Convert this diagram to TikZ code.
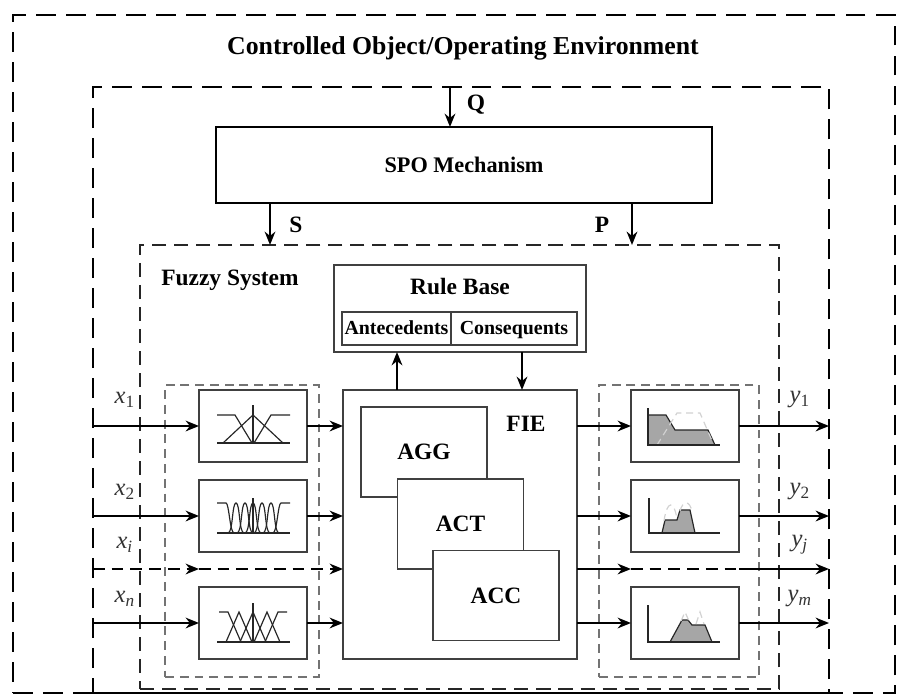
\documentclass[tikz,border=0pt]{standalone}
\usepackage{fontspec}
\setmainfont{Liberation Serif}
\usetikzlibrary{arrows.meta,calc,positioning}
\tikzset{
  envbox/.style={
    draw=black,
    line width=1.1pt,
    dash pattern=on 8.5pt off 4.3pt,
    inner sep=0pt,
    outer sep=0pt
  },
  fsbox/.style={
    draw=black!85,
    line width=.7pt,
    dash pattern=on 6pt off 3.4pt,
    inner sep=0pt,
    outer sep=0pt
  },
  unitbox/.style={
    draw=black!55,
    line width=.6pt,
    dash pattern=on 3.8pt off 2.5pt,
    inner sep=0pt,
    outer sep=0pt
  },
  block/.style={
    draw=black!75,
    line width=.75pt,
    fill=white,
    inner sep=0pt,
    outer sep=0pt,
    font=\fontsize{10}{12}\selectfont\bfseries
  },
  subblock/.style={
    block,
    minimum height=.495cm,
    text height=1.5ex,
    text depth=.35ex,
    font=\fontsize{8.5}{10}\selectfont\bfseries
  },
  stage/.style={
    block,
    minimum width=1.89cm,
    minimum height=1.35cm
  },
  mfbox/.style={
    block,
    minimum width=1.62cm,
    minimum height=1.08cm
  },
  lbl/.style={
    inner sep=0pt,
    font=\fontsize{10}{12}\selectfont\bfseries
  },
  sig/.style={
    inner sep=0pt,
    text=black!80,
    font=\fontsize{10.5}{12}\selectfont
  },
  flow/.style={
    -{Stealth[length=2mm,width=1.6mm]},
    line width=.95pt,
    black
  },
  rowdash/.style={
    line width=.95pt,
    dash pattern=on 5pt off 3pt
  },
  curve/.style={
    line width=.5pt,
    black!85
  }
}

\begin{document}
\begin{tikzpicture}[x=0.015cm,y=-0.015cm]
\useasboundingbox (0,0) rectangle (907,695);
\node[envbox,minimum width=13.23cm,minimum height=10.17cm] (env) at (454,354) {};
\node[envbox,minimum width=11.04cm,minimum height=9.09cm] (mid) at (461,390) {};
\node[fsbox,minimum width=9.585cm,minimum height=6.66cm] (fsys) at (459.5,467) {};
\node[unitbox,minimum width=2.31cm,minimum height=4.38cm] (fu) at (242,531) {};
\node[unitbox,minimum width=2.4cm,minimum height=4.38cm] (dfu) at (679,531) {};

\node[lbl,font=\fontsize{11}{13}\selectfont\bfseries] (envt) at (463,48) {Controlled Object/Operating Environment};
\node[block,draw=black,line width=1pt,font=\fontsize{9.5}{11}\selectfont\bfseries,minimum width=7.44cm,minimum height=1.14cm] (spo) at (464,165) {SPO Mechanism};
\node[lbl] (fst) at (230,280) {Fuzzy System};
\node[lbl] (fut) at (242,405) {FU};
\node[lbl] (dfut) at (680,405) {DFU};

\node[block,minimum width=3.78cm,minimum height=1.305cm] (rule) at (460,308.5) {};
\node[lbl] (rulet) at (460,287) {Rule Base};
\node[subblock,minimum width=1.635cm] (ante) at (396.5,328.5) {Antecedents};
\node[subblock,minimum width=1.89cm] (cons) at (514,328.5) {Consequents};

\node[block,minimum width=3.51cm,minimum height=4.035cm] (fie) at (460,524.5) {};
\node[lbl] (fiet) at (526,424) {FIE};
\node[stage] (agg) at (424,452) {AGG};
\node[stage] (act) at (460.5,524) {ACT};
\node[stage] (acc) at (496,595.5) {ACC};

\foreach \n/\y in {1/426,2/516,3/623}{
  \node[mfbox] (fu\n) at (253,\y) {};
  \node[mfbox] (dfu\n) at (685,\y) {};
  \draw[flow] (mid.west |- fu\n) -- (fu\n);
  \draw[flow] (fu\n) -- (fie.west |- fu\n);
  \draw[flow] (fie.east |- dfu\n) -- (dfu\n);
  \draw[flow] (dfu\n) -- (mid.east |- dfu\n);
}

\coordinate (xi) at (93,569);
\coordinate (yj) at (829,569);
\draw[flow,rowdash] (xi) -- (fu1.west |- xi);
\draw[flow,rowdash] (fu1.west |- xi) -- (fie.west |- xi);
\draw[flow] (fie.east |- yj) -- (dfu1.west |- yj);
\draw[rowdash] (dfu1.west |- yj) -- (dfu1.east |- yj);
\draw[flow] (dfu1.east |- yj) -- (yj);

\coordinate (qx) at (450,87);
\coordinate (sx) at (270,0);
\coordinate (px) at (632,0);
\coordinate (upx) at (397,0);
\coordinate (dnx) at (522,0);
\draw[flow] (qx) -- (qx |- spo.north);
\draw[flow] (sx |- spo.south) -- (sx |- fsys.north);
\draw[flow] (px |- spo.south) -- (px |- fsys.north);
\draw[flow] (upx |- fie.north) -- (upx |- rule.south);
\draw[flow] (dnx |- rule.south) -- (dnx |- fie.north);
\node[lbl] (qt) at (476,105) {Q};
\node[lbl] (st) at (296,225) {S};
\node[lbl] (pt) at (602,225) {P};

\node[sig] (x1) at (125,400) {\textit{x}\textsubscript{1}};
\node[sig] (x2) at (125,492) {\textit{x}\textsubscript{2}};
\node[sig] (xit) at (125,545) {\textit{x}\textsubscript{\textit{i}}};
\node[sig] (xn) at (125,599) {\textit{x}\textsubscript{\textit{n}}};
\node[sig] (y1) at (800,400) {\textit{y}\textsubscript{1}};
\node[sig] (y2) at (800,492) {\textit{y}\textsubscript{2}};
\node[sig] (yjt) at (800,545) {\textit{y}\textsubscript{\textit{j}}};
\node[sig] (ym) at (800,599) {\textit{y}\textsubscript{\textit{m}}};

% fuzzification curves
\draw[curve] (217,415) -- (235,415) -- (252,443);
\draw[curve] (223,443) -- (253,415) -- (283,443);
\draw[curve] (254,443) -- (271,415) -- (290,415);
\draw[curve] (217,443) -- (290,443);
\draw[curve,line width=.8pt] (253,405) -- (253,443);

\draw[curve] (217,503) -- (226,503) .. controls (229,503) and (230,533) .. (234,533);
\draw[curve] (290,503) -- (281,503) .. controls (278,503) and (277,533) .. (273,533);
\foreach \c in {236,245,253,262,271}{
  \draw[curve] (\c-8,533) .. controls (\c-3,533) and (\c-4,503) .. (\c,503)
    .. controls (\c+4,503) and (\c+3,533) .. (\c+8,533);
}
\draw[curve] (217,533) -- (290,533);
\draw[curve,line width=.8pt] (253,498) -- (253,533);

\draw[curve] (219,612) -- (228,612) -- (241,642);
\foreach \c in {239,253,267}{
  \draw[curve] (\c-13,642) -- (\c,612) -- (\c+13,642);
}
\draw[curve] (265,642) -- (278,612) -- (287,612);
\draw[curve] (217,642) -- (290,642);
\draw[curve,line width=.8pt] (253,603) -- (253,642);

% defuzzification curves
\fill[gray!70] (648,445) -- (648,415) -- (666,415) -- (675,430) -- (708,430) -- (715,445) -- cycle;
\draw[curve] (648,415) -- (666,415) -- (675,430) -- (708,430) -- (715,445);
\draw[curve,gray!35,densely dashed] (657,445) -- (677,413) -- (700,413) -- (713,443);
\draw[curve] (648,408) -- (648,445) -- (720,445);

\fill[gray!70] (662,533) -- (665,520) -- (677,520) -- (680,510) -- (690,510) -- (695,533) -- cycle;
\draw[curve] (662,533) -- (665,520) -- (677,520) -- (680,510) -- (690,510) -- (695,533);
\draw[curve,gray!35,densely dashed] (664,521) .. controls (667,500) and (674,500) .. (677,519);
\draw[curve,gray!35,densely dashed] (680,511) .. controls (683,500) and (690,500) .. (692,512);
\draw[curve] (649,498) -- (649,533) -- (720,533);

\fill[gray!70] (670,642) -- (682,620) -- (688,620) -- (692,625) -- (705,625) -- (712,642) -- cycle;
\draw[curve] (670,642) -- (682,620) -- (688,620) -- (692,625) -- (705,625) -- (712,642);
\draw[curve,gray!35,densely dashed] (681,621) -- (685,612) -- (689,621);
\draw[curve,gray!35,densely dashed] (696,624) -- (700,612) -- (704,624);
\draw[curve] (648,605) -- (648,642) -- (720,642);
\end{tikzpicture}
\end{document}
